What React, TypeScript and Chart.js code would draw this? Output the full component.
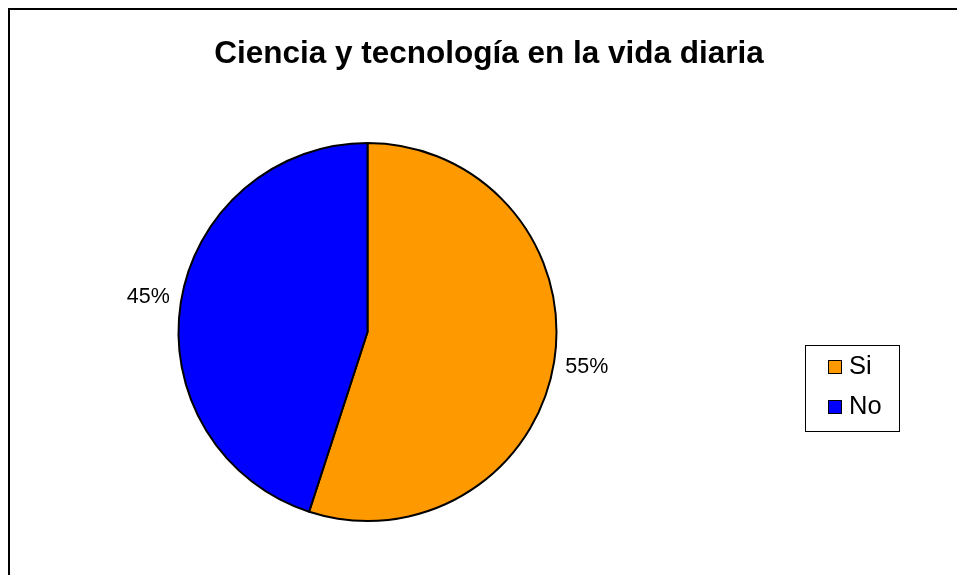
import React, { useEffect, useRef } from "react";
import { Chart, registerables } from "chart.js";

Chart.register(...registerables);

const TITLE = "Ciencia y tecnología en la vida diaria";
const LABELS = ["Si", "No"];
const VALUES = [55, 45];
const COLORS = ["#FF9900", "#0000FF"];
const FONT = "'Liberation Sans', Arial, sans-serif";

const decorPlugin = {
  id: "decor",
  beforeDraw(chart: any) {
    const ctx = chart.ctx;
    ctx.save();
    ctx.fillStyle = "#ffffff";
    ctx.fillRect(0, 0, chart.width, chart.height);
    ctx.strokeStyle = "#000000";
    ctx.lineWidth = 2;
    ctx.strokeRect(9, 9, 1200, 1000);
    ctx.restore();
  },
  afterDraw(chart: any) {
    const ctx = chart.ctx;
    ctx.save();
    // title
    ctx.fillStyle = "#000000";
    ctx.font = `bold 31.5px ${FONT}`;
    ctx.textAlign = "center";
    ctx.textBaseline = "alphabetic";
    ctx.fillText(TITLE, 489, 63);

    // percentage labels
    const meta = chart.getDatasetMeta(0);
    const total = VALUES.reduce((a, b) => a + b, 0);
    ctx.font = `21.5px ${FONT}`;
    ctx.textBaseline = "middle";
    meta.data.forEach((arc: any, i: number) => {
      const mid = (arc.startAngle + arc.endAngle) / 2;
      const r = arc.outerRadius + 33;
      const x = arc.x + Math.cos(mid) * r;
      const y = arc.y + Math.sin(mid) * r;
      ctx.fillText(Math.round((VALUES[i] / total) * 100) + "%", x, y);
    });

    // legend
    ctx.strokeStyle = "#000000";
    ctx.lineWidth = 1;
    ctx.strokeRect(805.5, 345.5, 94, 86);
    ctx.font = `25.5px ${FONT}`;
    ctx.textAlign = "left";
    LABELS.forEach((lab, i) => {
      const y = 360 + i * 40;
      ctx.fillStyle = COLORS[i];
      ctx.fillRect(828, y, 14, 14);
      ctx.strokeRect(828.5, y + 0.5, 13, 13);
      ctx.fillStyle = "#000000";
      ctx.fillText(lab, 849, y + 7);
    });
    ctx.restore();
  },
};

export default function App() {
  const ref = useRef<HTMLCanvasElement>(null);
  useEffect(() => {
    if (!ref.current) return;
    const chart = new Chart(ref.current, {
      type: "pie",
      data: {
        labels: LABELS,
        datasets: [
          {
            data: VALUES,
            backgroundColor: COLORS,
            borderColor: "#000000",
            borderWidth: 2,
            hoverOffset: 0,
            borderAlign: "center",
          },
        ],
      },
      options: {
        animation: false,
        responsive: false,
        events: [],
        layout: { padding: { left: 177.5, right: 399.5, top: 142, bottom: 53 } },
        plugins: {
          legend: { display: false },
          title: { display: false },
          tooltip: { enabled: false },
        },
      },
      plugins: [decorPlugin],
    });
    return () => chart.destroy();
  }, []);
  return (
    <div style={{ position: "fixed", left: 0, top: 0, width: 957, height: 575 }}>
      <canvas ref={ref} width={957} height={575} style={{ width: 957, height: 575 }} />
    </div>
  );
}
